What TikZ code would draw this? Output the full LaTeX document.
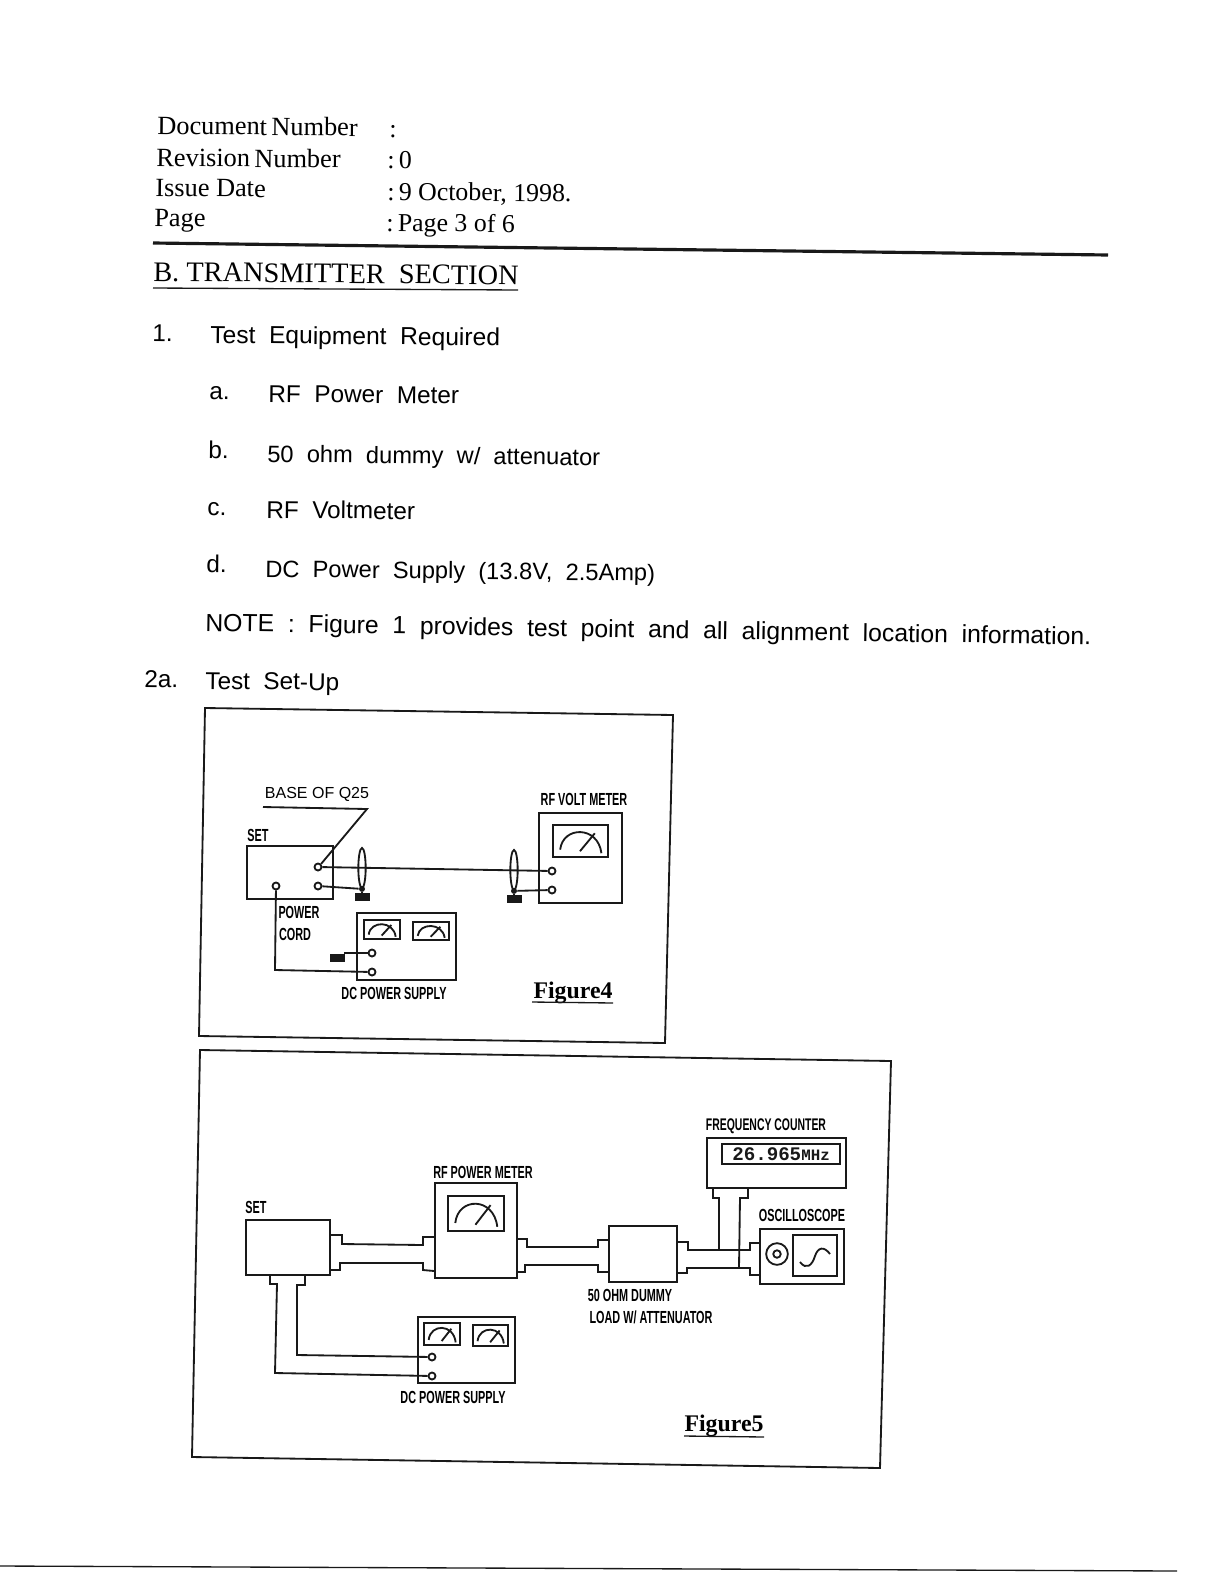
\documentclass[tikz,border=0pt]{standalone}
\usepackage{fontspec}
\setmainfont{Liberation Serif}
\newfontfamily\bodyf{Liberation Sans}
\newfontfamily\narrowf[FakeStretch=0.62]{Liberation Sans}
\newfontfamily\monof{Liberation Mono}
\usetikzlibrary{shapes.geometric}
\tikzset{
  ink/.style={line width=1.1pt,color=black!90},
  box/.style={draw,ink,rectangle,inner sep=0,fill=none},
  term/.style={draw,ink,circle,inner sep=0,minimum size=4.2pt,fill=white},
  gnd/.style={fill=black!90,rectangle,inner sep=0,minimum width=9pt,minimum height=4.5pt},
  jdot/.style={fill=black!90,circle,inner sep=0,minimum size=3.6pt},
  loop/.style={draw,ink,ellipse,inner sep=0,minimum width=4.4pt,minimum height=24pt},
  hd/.style={anchor=base west,inner sep=0,rotate=-0.6,font=\fontsize{15.5pt}{17pt}\selectfont},
  hl/.style={anchor=base west,inner sep=0,rotate=-0.6,font=\fontsize{15.8pt}{17pt}\selectfont},
  bd/.style={anchor=base west,inner sep=0,rotate=-0.6,font=\bodyf\fontsize{14.6pt}{17pt}\selectfont},
  tag/.style={inner sep=0,font=\narrowf\bfseries\fontsize{10.5pt}{12pt}\selectfont},
  fig/.style={inner sep=0,font=\bfseries\fontsize{14.3pt}{15pt}\selectfont},
}
\newcommand{\bx}[5]{\node[box,minimum width={(#4-#2)*0.6pt},minimum height={(#5-#3)*0.6pt}] (#1) at ({(#2+#4)/2},{(#3+#5)/2}) {};}
\newcommand{\dial}[4]{%
  \begin{scope}[shift={(#1,#2)},x={0.6pt*(#3-#1)},y={0.6pt*(#2-#4)}]
    \draw[ink] (0.13,0.77) .. controls (0.18,0.02) and (0.82,0.02) .. (0.88,0.88);
    \draw[ink] (0.49,0.82) -- (0.76,0.26);
  \end{scope}}
\begin{document}
\begin{tikzpicture}[x=0.6pt,y=-0.6pt]
\useasboundingbox[fill=white] (0,0) rectangle (1224,1584);
% header
\node[hl] (h1) at (157,134) {Document\,Number};
\node[hl] (h2) at (156,166) {Revision\,Number};
\node[hl] (h3) at (155,196) {Issue Date};
\node[hl] (h4) at (154,226) {Page};
\node[hd] (v1) at (389,137) {:};
\node[hd] (v2) at (387,168) {:\,0};
\node[hd] (v3) at (387,200) {:\,9 October, 1998.};
\node[hd] (v4) at (386,231) {:\,Page 3 of 6};
\draw[line width=1.9pt,color=black!90] (153,243) -- (1108,255);
\node[hd,font=\fontsize{17pt}{19pt}\selectfont] (title) at (153,281) {B. TRANSMITTER\ \ SECTION};
\draw[line width=0.8pt,color=black!90] (153,288) -- (518,290);
% body
\node[bd] (n1) at (152,341) {1.};
\node[bd,font=\bodyf\fontsize{14.75pt}{17pt}\selectfont] (t1) at (210,343) {Test\ \ Equipment\ \ Required};
\node[bd] (na) at (209,399) {a.};
\node[bd] (ta) at (268,402) {RF\ \ Power\ \ Meter};
\node[bd] (nb) at (208,458) {b.};
\node[bd,font=\bodyf\fontsize{14.2pt}{17pt}\selectfont] (tb) at (267,462) {50\ \ ohm\ \ dummy\ \ w/\ \ attenuator};
\node[bd] (nc) at (207,515) {c.};
\node[bd] (tc) at (266,518) {RF\ \ Voltmeter};
\node[bd] (nd) at (206,572) {d.};
\node[bd,font=\bodyf\fontsize{14.2pt}{17pt}\selectfont] (td) at (265,577) {DC\ \ Power\ \ Supply\ \ (13.8V,\ \ 2.5Amp)};
\node[bd,rotate=-0.3,font=\bodyf\fontsize{14.85pt}{17pt}\selectfont] (note) at (205,631) {NOTE\ \ :\ \ Figure\ \ 1\ \ provides\ \ test\ \ point\ \ and\ \ all\ \ alignment\ \ location\ \ information.};
\node[bd] (n2) at (144,687) {2a.};
\node[bd] (t2) at (205,689) {Test\ \ Set-Up};
% frames
\draw[ink] (205,708) -- (673,715) -- (665,1043) -- (199,1036) -- cycle;
\draw[ink] (200,1050) -- (891,1061) -- (880,1468) -- (192,1457) -- cycle;
\draw[line width=0.8pt,color=black!90] (0,1566) -- (1177,1571);

% Figure 4
\node[inner sep=0,font=\bodyf\fontsize{9.6pt}{11pt}\selectfont] (base) at (317,794) {BASE OF Q25};
\node[tag] (set4l) at (258,835) {SET};
\bx{set4}{247}{846}{333}{899}
\node[term] (s4a) at (318,867) {};
\node[term] (s4b) at (318,886) {};
\node[term] (s4c) at (276,886) {};
\coordinate (lead1) at (263,807);
\coordinate (lead2) at (367,809);
\draw[ink] (lead1) -- (lead2) -- (s4a.north east);
\node[tag] (rfvl) at (584,799) {RF VOLT METER};
\bx{rfv}{539}{813}{622}{903}
\bx{rfvd}{553}{825}{608}{857}
\dial{553}{825}{608}{857}
\node[term] (rfa) at (552,871) {};
\node[term] (rfb) at (552,890) {};
\node[loop] (l1) at (362,868) {};
\node[loop] (l2) at (514,870) {};
\node[gnd] (g1) at (362,897) {};
\node[gnd] (g2) at (514,899) {};
\node[jdot] (j1) at (l1.south) {};
\node[jdot] (j2) at (l2.south) {};
\draw[ink] (s4a) -- (rfa);
\draw[ink] (s4b) -- (j1);
\draw[ink] (j1) -- (g1.north);
\draw[ink] (j2) -- (g2.north);
\draw[ink] (j2) -- (rfb);
\node[tag] (pw1) at (299,912) {POWER};
\node[tag] (pw2) at (295,934) {CORD};
\bx{dc4}{357}{913}{456}{980}
\bx{dc4a}{364}{920}{400}{939}
\bx{dc4b}{413}{922}{449}{940}
\dial{364}{920}{400}{939}
\dial{413}{922}{449}{940}
\node[term] (d4a) at (372,953) {};
\node[term] (d4b) at (372,972) {};
\node[gnd,minimum height=5pt] (g3) at (337,958) {};
\draw[ink] (g3.north east) |- (d4a);
\draw[ink] (s4c) -- (275,970) -- (d4b);
\node[tag] (dc4l) at (394,993) {DC POWER SUPPLY};
\node[fig] (f4) at (573,993) {Figure4};
\draw[line width=0.8pt,color=black!90] (532,1002) -- (613,1003);

% Figure 5
\node[tag] (set5l) at (256,1207) {SET};
\bx{set5}{246}{1220}{330}{1275}
\node[tag] (rfpl) at (483,1172) {RF POWER METER};
\bx{rfp}{435}{1183}{517}{1278}
\bx{rfpd}{448}{1196}{504}{1231}
\dial{448}{1196}{504}{1231}
\bx{dum}{609}{1226}{677}{1282}
\node[tag] (duml1) at (630,1295) {50 OHM DUMMY};
\node[tag] (duml2) at (651,1317) {LOAD W/ ATTENUATOR};
\node[tag,font=\narrowf\bfseries\fontsize{10.1pt}{12pt}\selectfont] (fcl) at (766,1126) {FREQUENCY COUNTER};
\bx{fc}{707}{1138}{846}{1188}
\node[box,minimum width=70.8pt,minimum height=12pt,font=\monof\bfseries\fontsize{11.5pt}{12pt}\selectfont] (fcd) at (781,1154) {26.965{\fontsize{9.5pt}{9pt}\selectfont MHz}};
\node[tag] (oscl) at (802,1215) {OSCILLOSCOPE};
\bx{osc}{760}{1229}{844}{1284}
\bx{oscd}{793}{1235}{837}{1276}
\node[draw,ink,circle,inner sep=0,minimum size=13pt] (oc1) at (777,1254) {};
\node[draw,ink,circle,inner sep=0,minimum size=4.5pt] (oc2) at (777,1254) {};
\draw[ink] (800,1262) .. controls (806,1270) and (812,1266) .. (815,1256) .. controls (818,1247) and (824,1246) .. (830,1254);
% connectors
\draw[ink] (set5.east |- 0,1235) -- (342,1235) -- (342,1244) -- (423,1245) -- (423,1237) -- (rfp.west |- 0,1237);
\draw[ink] (set5.east |- 0,1270) -- (340,1270) -- (340,1263) -- (423,1263) -- (423,1270) -- (rfp.west |- 0,1271);
\draw[ink] (rfp.east |- 0,1239) -- (527,1239) -- (527,1247) -- (598,1247) -- (598,1240) -- (dum.west |- 0,1240);
\draw[ink] (rfp.east |- 0,1272) -- (525,1272) -- (525,1265) -- (598,1265) -- (598,1272) -- (dum.west |- 0,1272);
\draw[ink] (dum.east |- 0,1242) -- (688,1242) -- (688,1250) -- (750,1250) -- (750,1243) -- (osc.west |- 0,1243);
\draw[ink] (dum.east |- 0,1273) -- (687,1273) -- (687,1268) -- (750,1268) -- (750,1275) -- (osc.west |- 0,1275);
\draw[ink] (713,1188) -- (713,1198) -- (719,1198) -- (719,1250);
\draw[ink] (748,1188) -- (748,1198) -- (740,1198) -- (739,1268);
\bx{dc5}{418}{1317}{515}{1383}
\bx{dc5a}{424}{1323}{460}{1345}
\bx{dc5b}{473}{1325}{508}{1346}
\dial{424}{1323}{460}{1345}
\dial{473}{1325}{508}{1346}
\node[term] (d5a) at (432,1357) {};
\node[term] (d5b) at (432,1376) {};
\draw[ink] (270,1275) -- (270,1284) -- (277,1284) -- (275,1373) -- (d5b);
\draw[ink] (305,1275) -- (305,1285) -- (297,1285) -- (297,1355) -- (d5a);
\node[tag] (dc5l) at (453,1397) {DC POWER SUPPLY};
\node[fig] (f5) at (724,1426) {Figure5};
\draw[line width=0.8pt,color=black!90] (684,1436) -- (764,1437);
\end{tikzpicture}
\end{document}
